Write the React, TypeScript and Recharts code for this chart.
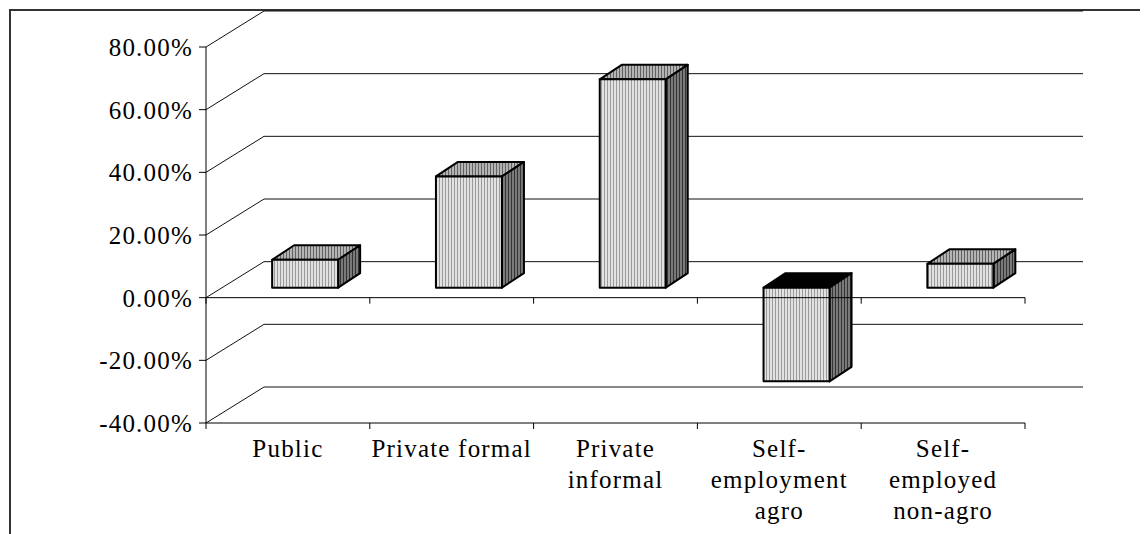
import React from 'react';
import { BarChart, Bar, XAxis, YAxis, CartesianGrid, ReferenceLine } from 'recharts';

const categories = [
  'Public',
  'Private formal',
  'Private informal',
  'Self-employment agro',
  'Self-employed non-agro',
];
const categoryLines = [
  ['Public'],
  ['Private formal'],
  ['Private', 'informal'],
  ['Self-', 'employment', 'agro'],
  ['Self-', 'employed', 'non-agro'],
];
const changeValues = [8.9, 35.5, 66.5, -29.9, 7.6];
const yTicks = [-40, -20, 0, 20, 40, 60, 80];

const data = categories.map((name, i) => ({ name, value: changeValues[i] }));

// 3D look (Excel style): back wall offset and bar depth
const WALL_DX = 58;
const WALL_DY = 36;
const BAR_SHIFT_X = 17;
const BAR_SHIFT_Y = 10;
const BAR_DX = 22;
const BAR_DY = 14.5;

const FONT = 'Liberation Serif, serif';

const BackGridLine = (p: any) => {
  const { x1, y1, x2 } = p;
  return (
    <path
      d={`M${x1},${y1} L${x1 + WALL_DX},${y1 - WALL_DY} L${x2 + WALL_DX},${y1 - WALL_DY}`}
      fill="none"
      stroke="#111"
      strokeWidth={1}
    />
  );
};

const Bar3D = (p: any) => {
  const { x, y, width, height } = p;
  const v = p.payload?.value ?? 0;
  const top = Math.min(y, y + height) - BAR_SHIFT_Y;
  const bottom = Math.max(y, y + height) - BAR_SHIFT_Y;
  const fx = x + BAR_SHIFT_X;
  const w = width;
  const topFace = `${fx},${top} ${fx + BAR_DX},${top - BAR_DY} ${fx + w + BAR_DX},${top - BAR_DY} ${fx + w},${top}`;
  const sideFace = `${fx + w},${top} ${fx + w + BAR_DX},${top - BAR_DY} ${fx + w + BAR_DX},${bottom - BAR_DY} ${fx + w},${bottom}`;
  return (
    <g stroke="#000" strokeWidth={2} strokeLinejoin="round">
      <polygon points={topFace} fill={v < 0 ? '#000' : 'url(#stripeTop)'} />
      <polygon points={sideFace} fill="url(#stripeSide)" />
      <rect x={fx} y={top} width={w} height={bottom - top} fill="url(#stripeFront)" />
    </g>
  );
};

const CategoryTick = (p: any) => {
  const { x, y, payload } = p;
  const i = categories.indexOf(payload.value);
  const band = PLOT_W / categories.length;
  const lines = categoryLines[i] || [payload.value];
  return (
    <g>
      <line x1={x - band / 2} y1={y} x2={x - band / 2} y2={y + 6} stroke="#000" />
      {i === categories.length - 1 && (
        <line x1={x + band / 2} y1={y} x2={x + band / 2} y2={y + 6} stroke="#000" />
      )}
      <text
        x={x}
        y={y}
        textAnchor="middle"
        fill="#000"
        style={{ fontFamily: FONT, fontSize: 25, letterSpacing: 1.2 }}
      >
        {lines.map((l, k) => (
          <tspan key={k} x={x} y={y + 34 + k * 31}>
            {l}
          </tspan>
        ))}
      </text>
    </g>
  );
};

const ZeroAxis = (p: any) => {
  const { x1, y1, x2 } = p;
  const band = (x2 - x1) / categories.length;
  return (
    <g>
      <line x1={x1} y1={y1} x2={x2} y2={y1} stroke="#000" strokeWidth={1} />
      {Array.from({ length: categories.length + 1 }, (_, k) => (
        <line key={k} x1={x1 + k * band} y1={y1} x2={x1 + k * band} y2={y1 + 6} stroke="#000" />
      ))}
    </g>
  );
};

const W = 1140;
const H = 526;
const Y_AXIS_W = 198;
const MARGIN_RIGHT = 123;
const PLOT_W = W - Y_AXIS_W - MARGIN_RIGHT;

export default function App() {
  return (
    <div style={{ position: 'relative', width: W, height: H, background: '#fff', fontFamily: FONT }}>
      <div
        style={{
          position: 'absolute',
          left: 1,
          top: 1,
          right: 0,
          bottom: 0,
          borderLeft: '2px solid #333',
          borderTop: '2px solid #333',
        }}
      />
      <div style={{ position: 'absolute', left: 0, top: 0 }}>
        <BarChart
          width={W}
          height={H}
          data={data}
          margin={{ top: 39, right: MARGIN_RIGHT, bottom: 0, left: 0 }}
          barCategoryGap="30%"
        >
          <defs>
            <pattern id="stripeFront" width={3} height={10} patternUnits="userSpaceOnUse">
              <rect width={3} height={10} fill="#e2e2e2" />
              <rect x={2} width={1} height={10} fill="#9a9a9a" />
            </pattern>
            <pattern id="stripeTop" width={3} height={10} patternUnits="userSpaceOnUse">
              <rect width={3} height={10} fill="#b4b4b4" />
              <rect x={2} width={1} height={10} fill="#626262" />
            </pattern>
            <pattern id="stripeSide" width={3} height={10} patternUnits="userSpaceOnUse">
              <rect width={3} height={10} fill="#7a7a7a" />
              <rect x={2} width={1} height={10} fill="#333" />
            </pattern>
          </defs>
          <CartesianGrid vertical={false} horizontal={(p: any) => <BackGridLine key={p.key} {...p} />} />
          <XAxis
            dataKey="name"
            height={111}
            axisLine={{ stroke: '#000' }}
            tickLine={false}
            tickSize={0}
            tickMargin={0}
            interval={0}
            tick={<CategoryTick />}
          />
          <YAxis
            width={Y_AXIS_W}
            domain={[-40, 80]}
            ticks={yTicks}
            interval={0}
            allowDataOverflow
            axisLine={{ stroke: '#000' }}
            tickLine={{ stroke: '#000' }}
            tickSize={7}
            tickMargin={6}
            tickFormatter={(v: number) => `${v.toFixed(2)}%`}
            tick={{ fill: '#000', fontSize: 25, style: { fontFamily: FONT, letterSpacing: 1.2 } }}
          />
          <Bar dataKey="value" isAnimationActive={false} shape={(p: any) => <Bar3D {...p} />} />
          <ReferenceLine y={0} stroke="#000" shape={(p: any) => <ZeroAxis {...p} />} />
        </BarChart>
      </div>
    </div>
  );
}
